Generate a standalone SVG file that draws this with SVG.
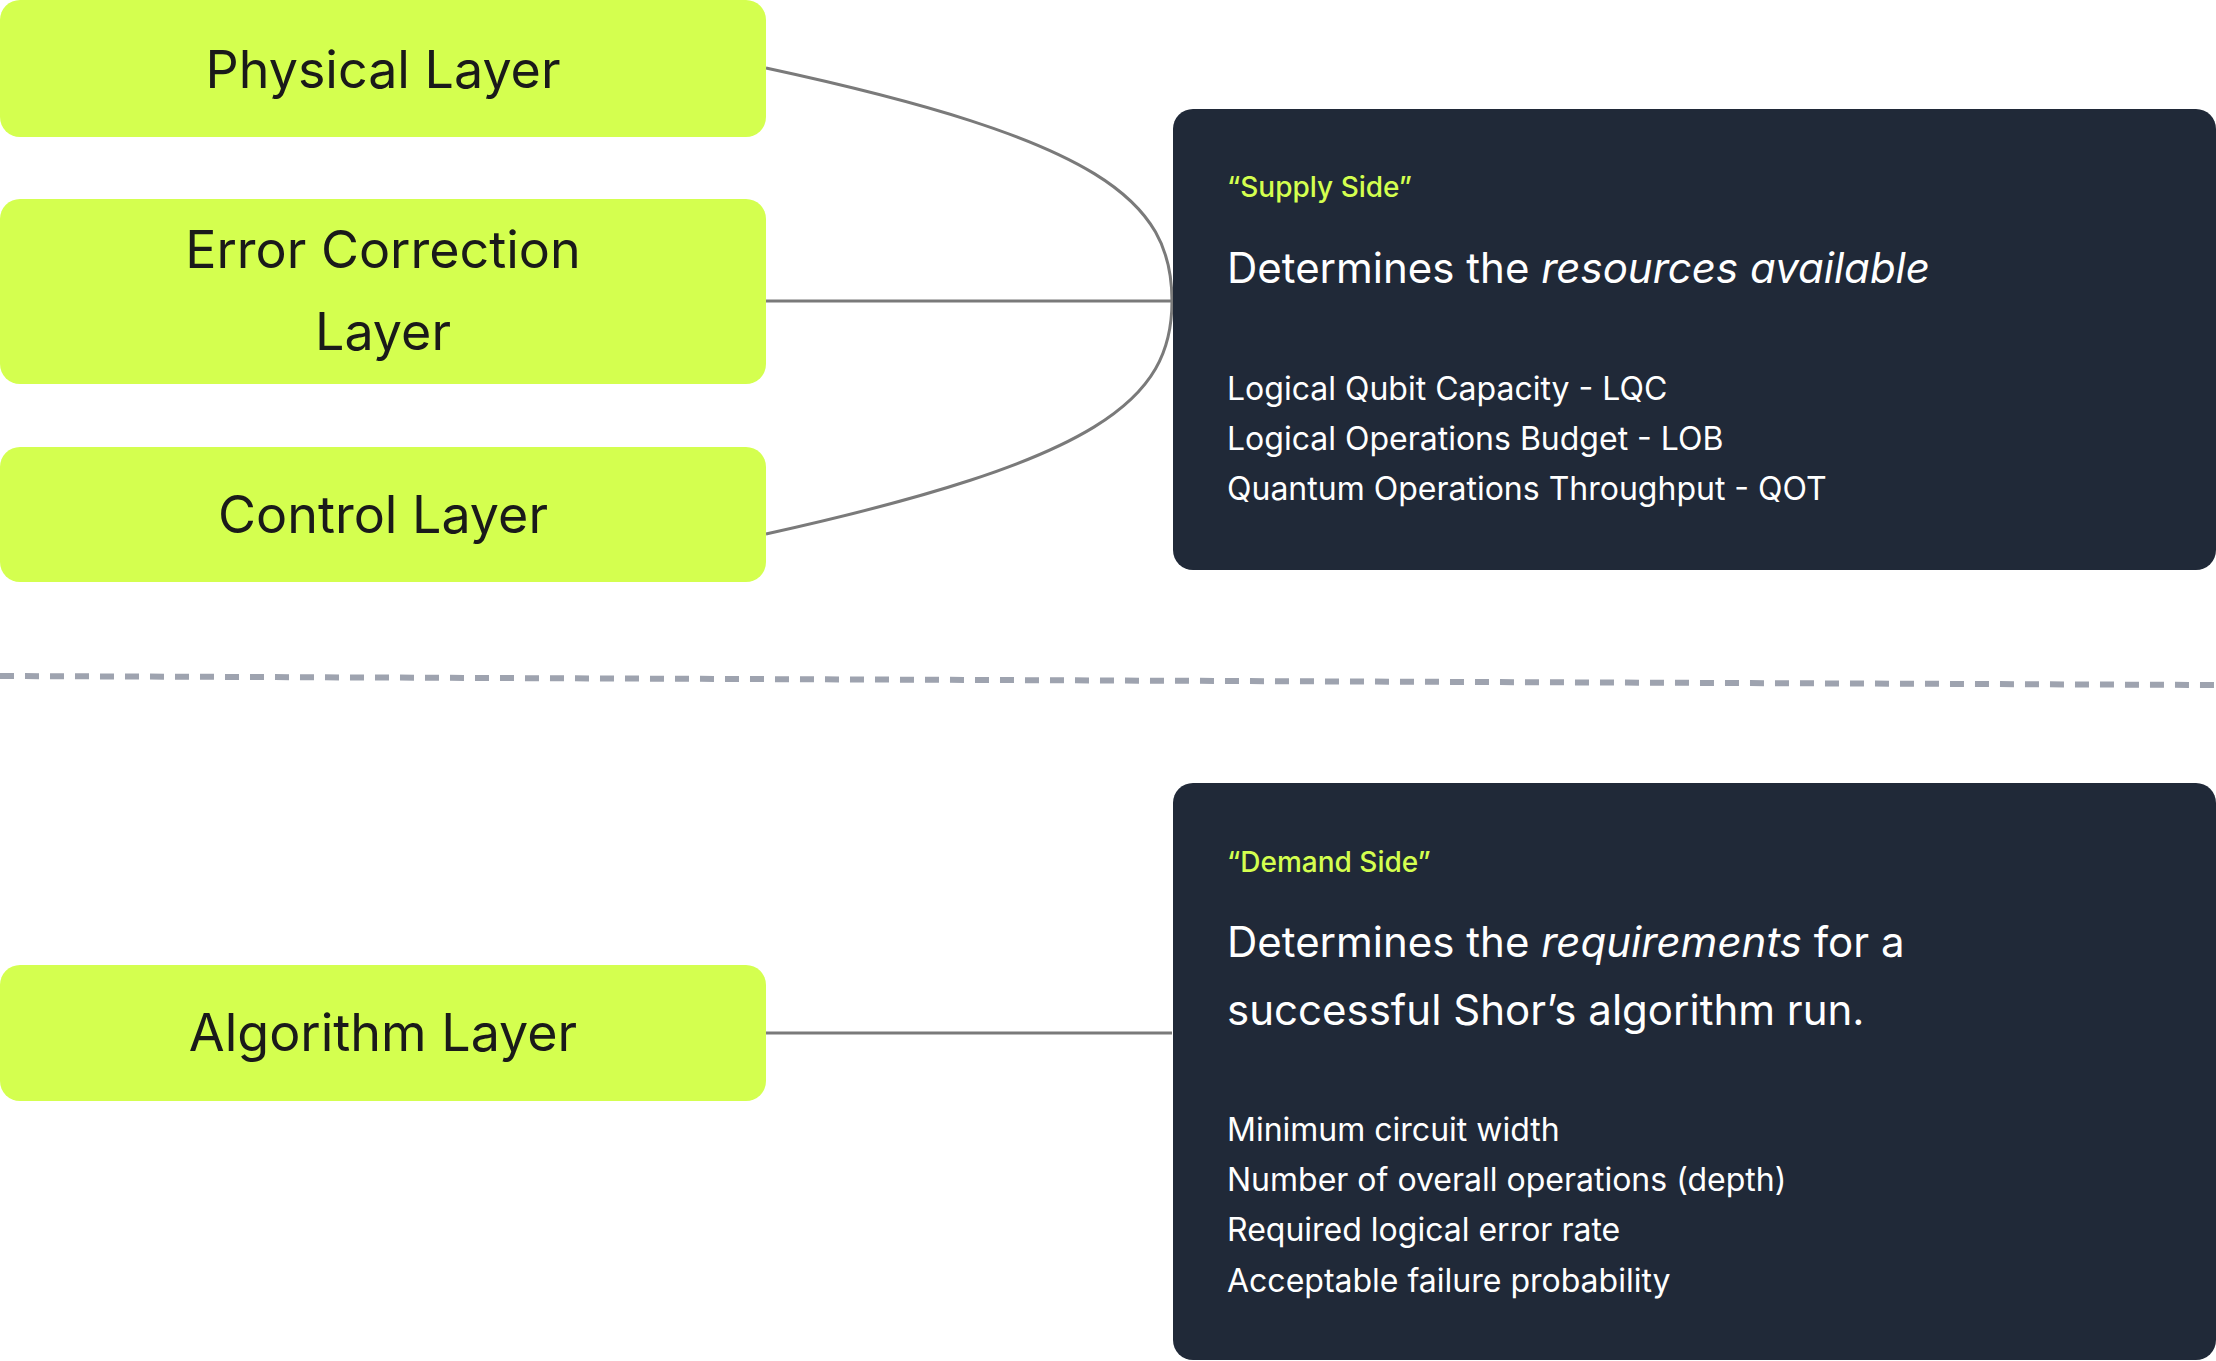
<svg xmlns="http://www.w3.org/2000/svg" width="2216" height="1361" viewBox="0 0 2216 1361">
<style>
.node{fill:#d4ff4f}
.nt{font-family:Inter,"Liberation Sans",sans-serif;font-size:52px;fill:#1a1a1a;text-anchor:middle}
.card{fill:#202938}
.lab{font-family:Inter,"Liberation Sans",sans-serif;font-size:28px;fill:#d4ff4f;font-weight:500}
.head{font-family:Inter,"Liberation Sans",sans-serif;font-size:42px;fill:#ffffff}
.li{font-family:Inter,"Liberation Sans",sans-serif;font-size:32px;fill:#ffffff}
.con{fill:none;stroke:#7a7a7a;stroke-width:3}
</style>
<rect width="2216" height="1361" fill="#ffffff"/>
<line x1="0" y1="676" x2="2216" y2="685" stroke="#9ea3af" stroke-width="6" stroke-dasharray="14 11"/>
<g id="connectors">
<path class="con" d="M766 68 C1100 140 1172 200 1172 301 C1172 400 1100 460 766 534"/>
<line class="con" x1="766" y1="301" x2="1172" y2="301"/>
<line class="con" x1="766" y1="1033" x2="1172" y2="1033"/>
</g>
<g id="physical"><rect class="node" x="0" y="0" width="766" height="137" rx="20"/><text class="nt" x="383" y="88">Physical Layer</text></g>
<g id="errorcorrection"><rect class="node" x="0" y="199" width="766" height="185" rx="20"/><text class="nt" x="383" y="268">Error Correction</text><text class="nt" x="383" y="350">Layer</text></g>
<g id="control"><rect class="node" x="0" y="447" width="766" height="135" rx="20"/><text class="nt" x="383" y="533">Control Layer</text></g>
<g id="algorithm"><rect class="node" x="0" y="965" width="766" height="136" rx="20"/><text class="nt" x="383" y="1051">Algorithm Layer</text></g>
<g id="supply"><rect class="card" x="1173" y="109" width="1043" height="461" rx="20"/>
<text class="lab" x="1227" y="197">“Supply Side”</text>
<text class="head" x="1227" y="283">Determines the <tspan font-style="italic">resources available</tspan></text>
<text class="li" x="1227" y="400">Logical Qubit Capacity - LQC</text>
<text class="li" x="1227" y="450">Logical Operations Budget - LOB</text>
<text class="li" x="1227" y="500">Quantum Operations Throughput - QOT</text></g>
<g id="demand"><rect class="card" x="1173" y="783" width="1043" height="577" rx="20"/>
<text class="lab" x="1227" y="872">“Demand Side”</text>
<text class="head" x="1227" y="957">Determines the <tspan font-style="italic">requirements</tspan> for a</text>
<text class="head" x="1227" y="1025">successful Shor’s algorithm run.</text>
<text class="li" x="1227" y="1141">Minimum circuit width</text>
<text class="li" x="1227" y="1191">Number of overall operations (depth)</text>
<text class="li" x="1227" y="1241">Required logical error rate</text>
<text class="li" x="1227" y="1292">Acceptable failure probability</text></g>
</svg>
